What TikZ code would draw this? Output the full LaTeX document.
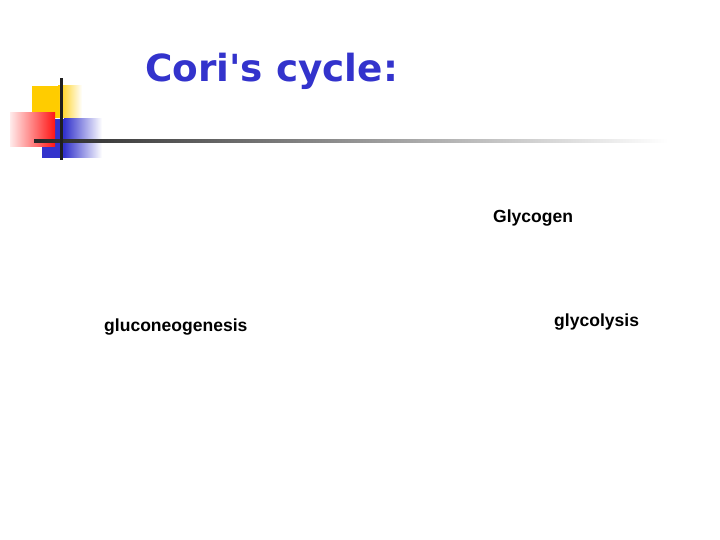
\documentclass[tikz,border=0pt]{standalone}
\usepackage{fontspec}
\setmainfont{Liberation Sans}
\newfontfamily\titlefont{DejaVu Sans}
\usepackage{tikz}
\usetikzlibrary{positioning}

\definecolor{coriblue}{RGB}{51,51,204}
\definecolor{coriyellow}{RGB}{255,204,0}
\definecolor{corired}{RGB}{255,20,20}

\tikzset{
	label text/.style={anchor=base west, inner sep=0pt, font=\fontsize{17.6}{20}\selectfont\bfseries},
	title text/.style={anchor=base west, inner sep=0pt, text=coriblue, font=\titlefont\fontsize{37.5}{42}\selectfont\bfseries}
}

\begin{document}
\begin{tikzpicture}[x=1bp, y=-1bp]
			\useasboundingbox (0,0) rectangle (720,540);
			% corner decoration
			\fill[coriyellow] (32,86) rectangle (58,118);
			\shade[left color=coriyellow, right color=white] (58,86) rectangle (82,118);
			\fill[coriblue] (42,119) rectangle (64,158);
			\shade[left color=coriblue, right color=white] (64,119) rectangle (102,158);
			\shade[shading angle=60, left color=red!8, right color=corired] (10,113) rectangle (55,147);
			\shade[left color=black!85, right color=white] (34,139.5) rectangle (668,142.5);
			\fill[black!88] (59.5,78) rectangle (62.5,160);
			% title
			\node[title text] (title) at (145,82) {Cori's cycle:};
			% labels
			\node[label text] (glycogen) at (493,223) {Glycogen};
			\node[label text] (gluconeo) at (104,331) {gluconeogenesis};
			\node[label text] (glycolysis) at (554,326) {glycolysis};
		\end{tikzpicture}
\end{document}
